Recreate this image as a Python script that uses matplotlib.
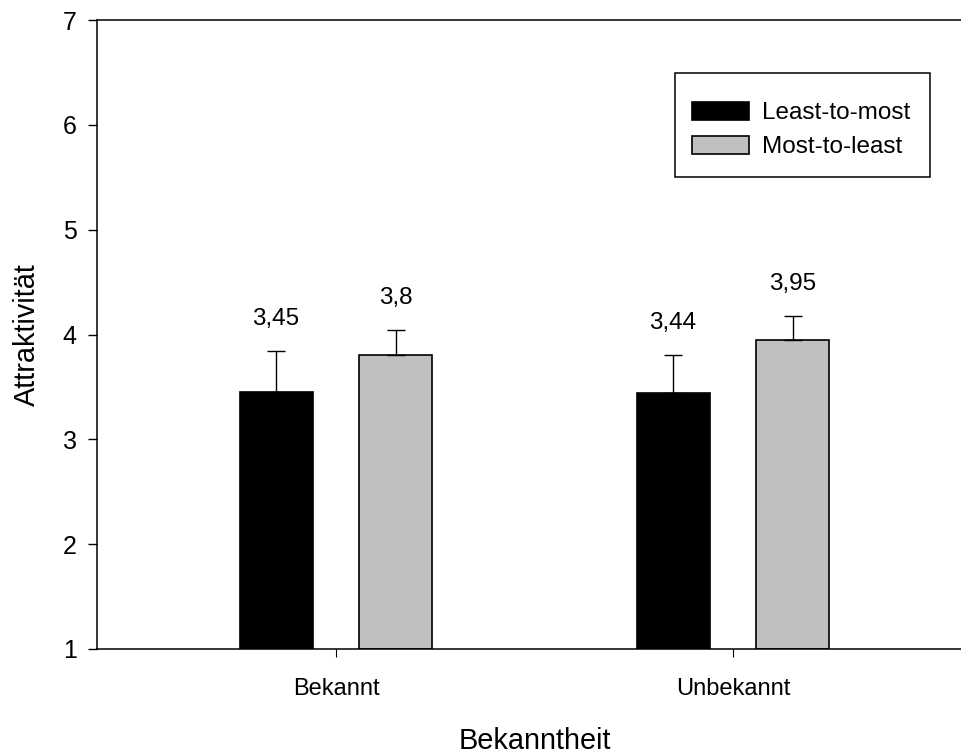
import numpy as np
import matplotlib
matplotlib.use("Agg")
import matplotlib.pyplot as plt
from matplotlib.patches import Rectangle

plt.rcParams['font.family'] = ['Liberation Sans', 'DejaVu Sans']

# Mittelwerte und Standardfehler je Bedingung
gruppen = ['Bekannt', 'Unbekannt']
reihen = ['Least-to-most', 'Most-to-least']
least_to_most = [3.45, 3.44]
most_to_least = [3.8, 3.95]
fehler_ltm = [0.39, 0.36]
fehler_mtl = [0.24, 0.23]

farben = ['#000000', '#c0c0c0']

fig = plt.figure(figsize=(9.62, 7.53), dpi=100)
ax = fig.add_axes([97 / 962, 1 - 649 / 753, 875 / 962, 629 / 753])

x = np.arange(len(gruppen))
breite = 0.184
versatz = 0.151

for i, (werte, fehler) in enumerate([(least_to_most, fehler_ltm), (most_to_least, fehler_mtl)]):
    pos = x + (versatz if i else -versatz)
    ax.bar(pos, np.array(werte) - 1, bottom=1, width=breite, color=farben[i],
           edgecolor='black', linewidth=1.2, label=reihen[i], zorder=2)
    ax.errorbar(pos, werte, yerr=[np.zeros(len(werte)), fehler], fmt='none',
                ecolor='black', elinewidth=1.0, capsize=6.8, capthick=1.0, zorder=3)
    for p, w, f in zip(pos, werte, fehler):
        ax.text(p, w + f + 0.305, str(w).replace('.', ','), ha='center', va='center',
                fontsize=17.5)

ax.set_xlim(-0.602, 1.602)
ax.set_ylim(1, 7)
ax.set_yticks(range(1, 8))
ax.set_xticks(x)
ax.set_xticklabels(gruppen)

ax.spines['right'].set_visible(False)
for s in ['left', 'bottom', 'top']:
    ax.spines[s].set_linewidth(1.1)

ax.tick_params(axis='y', direction='out', length=6.5, width=1.0, labelsize=18, pad=8)
ax.tick_params(axis='x', direction='out', length=6, width=0.8, labelsize=17, pad=15)

ax.set_xlabel('Bekanntheit', fontsize=20.8, labelpad=19)
ax.set_ylabel('Attraktivität', fontsize=20.8, labelpad=16)

# Legende ohne eigenen Rahmen, Kasten separat
leg = fig.legend(loc='center left', bbox_to_anchor=(692 / 962, 1 - 130 / 753),
                 fontsize=17.5, frameon=False, handlelength=2.35, handleheight=0.77,
                 handletextpad=0.55, borderpad=0, borderaxespad=0, labelspacing=0.49)
fig.patches.append(Rectangle((675 / 962, 1 - 177 / 753), 255 / 962, 104 / 753,
                             transform=fig.transFigure, fill=False,
                             edgecolor='black', linewidth=1.1))

fig.savefig('out.png', dpi=100)
